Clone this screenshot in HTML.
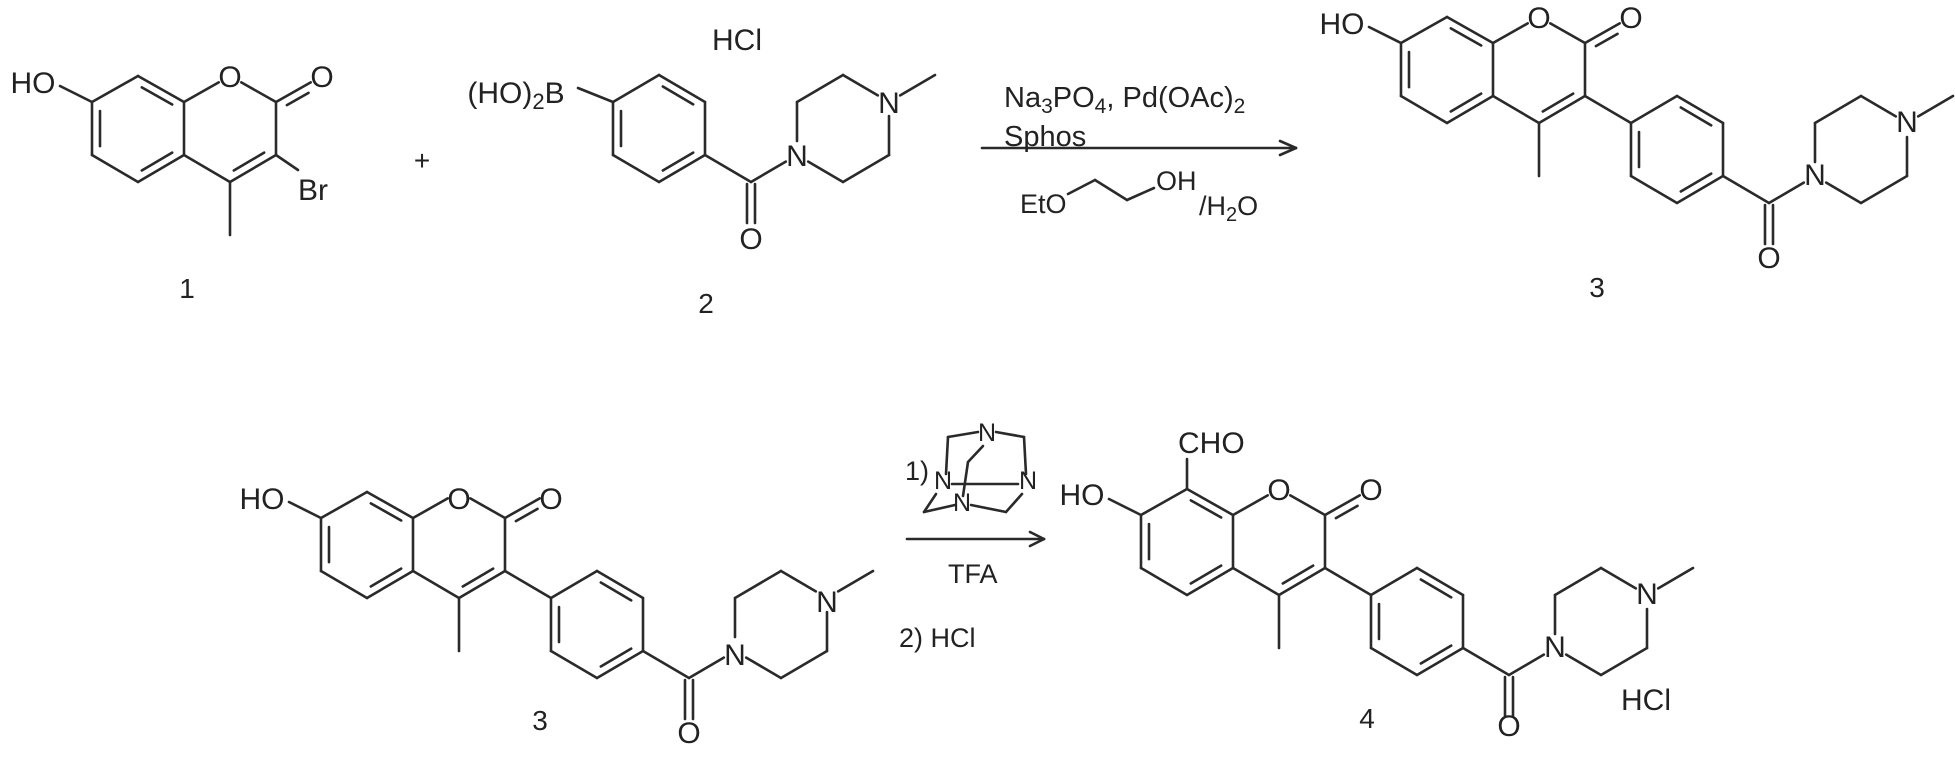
<!DOCTYPE html>
<html><head><meta charset="utf-8"><style>
html,body{margin:0;padding:0;background:#fff;}
svg{display:block;}
text{font-family:"Liberation Sans",sans-serif;fill:#222;}
</style></head><body>
<svg id="s" width="1955" height="758" viewBox="0 0 1955 758" xmlns="http://www.w3.org/2000/svg">
<g id="lines" stroke="#2a2a2a" stroke-width="2.6" fill="none" stroke-linecap="round"></g>
<g font-size="30" text-anchor="middle">
<!-- compound 1 -->
<text x="33" y="93">HO</text>
<text x="230" y="87">O</text>
<text x="322" y="87">O</text>
<text x="298" y="200" text-anchor="start">Br</text>
<text x="187" y="298" font-size="28">1</text>
<text x="422" y="170" font-size="28">+</text>
<!-- compound 2 -->
<text x="737" y="50">HCl</text>
<text x="516" y="103"><tspan>(HO)</tspan><tspan font-size="22" dy="6">2</tspan><tspan dy="-6">B</tspan></text>
<text x="751" y="249">O</text>
<text x="797" y="166">N</text>
<text x="889" y="113">N</text>
<text x="706" y="313" font-size="28">2</text>
<!-- reagents top -->
<text x="1004" y="107" text-anchor="start" font-size="29">Na<tspan font-size="21" dy="6">3</tspan><tspan dy="-6">PO</tspan><tspan font-size="21" dy="6">4</tspan><tspan dy="-6">, Pd(OAc)</tspan><tspan font-size="21" dy="6">2</tspan></text>
<text x="1004" y="146" text-anchor="start" font-size="29">Sphos</text>
<text x="1020" y="213" text-anchor="start" font-size="27">EtO</text>
<text x="1156" y="190" text-anchor="start" font-size="27">OH</text>
<text x="1199" y="215" text-anchor="start" font-size="27">/H<tspan font-size="20" dy="6">2</tspan><tspan dy="-6">O</tspan></text>
<!-- compound 3 top -->
<text x="1342" y="34">HO</text>
<text x="1539" y="28">O</text>
<text x="1631" y="28">O</text>
<text x="1769" y="268">O</text>
<text x="1815" y="185">N</text>
<text x="1907" y="132">N</text>
<text x="1597" y="297" font-size="28">3</text>
<!-- compound 3 bottom -->
<text x="262" y="509">HO</text>
<text x="459" y="509">O</text>
<text x="551" y="509">O</text>
<text x="689" y="743">O</text>
<text x="735" y="665">N</text>
<text x="827" y="612">N</text>
<text x="540" y="730" font-size="28">3</text>
<!-- reagents bottom -->
<text x="905" y="480" text-anchor="start" font-size="27">1)</text>
<g font-size="25">
<text x="987" y="441">N</text>
<text x="943" y="489">N</text>
<text x="1028" y="489">N</text>
<text x="962" y="511">N</text>
</g>
<text x="948" y="583" text-anchor="start" font-size="27">TFA</text>
<text x="899" y="647" text-anchor="start" font-size="27">2) HCl</text>
<!-- compound 4 -->
<text x="1082" y="505">HO</text>
<text x="1178" y="453" text-anchor="start">CHO</text>
<text x="1279" y="500">O</text>
<text x="1371" y="500">O</text>
<text x="1509" y="736">O</text>
<text x="1555" y="657">N</text>
<text x="1647" y="604">N</text>
<text x="1646" y="710">HCl</text>
<text x="1367" y="728" font-size="28">4</text>
</g>
</svg>
<script>
(function(){
var g=document.getElementById('lines'),NS='http://www.w3.org/2000/svg';
function ln(x1,y1,x2,y2){var l=document.createElementNS(NS,'line');l.setAttribute('x1',x1);l.setAttribute('y1',y1);l.setAttribute('x2',x2);l.setAttribute('y2',y2);g.appendChild(l);}
function seg(a,b,ta,tb){ta=ta||0;tb=tb||0;var dx=b[0]-a[0],dy=b[1]-a[1],d=Math.hypot(dx,dy),ux=dx/d,uy=dy/d;ln(a[0]+ux*ta,a[1]+uy*ta,b[0]-ux*tb,b[1]-uy*tb);}
function inner(a,b,c){var mx=(a[0]+b[0])/2,my=(a[1]+b[1])/2,vx=c[0]-mx,vy=c[1]-my,d=Math.hypot(vx,vy),o=8;vx=vx/d*o;vy=vy/d*o;var dx=b[0]-a[0],dy=b[1]-a[1];ln(a[0]+dx*0.17+vx,a[1]+dy*0.17+vy,b[0]-dx*0.17+vx,b[1]-dy*0.17+vy);}
function par(a,b,px,py,s0,s1){var dx=b[0]-a[0],dy=b[1]-a[1];ln(a[0]+dx*s0+px,a[1]+dy*s0+py,a[0]+dx*s1+px,a[1]+dy*s1+py);}
function coumarin(ox,oy,o){
 function P(x,y){return [x+ox,y+oy];}
 var C7=P(92,102),C8=P(138,76),C8a=P(184,102),C4a=P(184,155),C5=P(138,182),C6=P(92,155),
 O1=P(230,76),C2=P(276,102),C3=P(276,155),C4=P(230,182),Oc=P(322,76),c1=P(138,129),c2=P(230,129);
 seg(C7,C8);seg(C8,C8a);seg(C8a,C4a);seg(C4a,C5);seg(C5,C6);seg(C6,C7);
 inner(C8,C8a,c1);inner(C4a,C5,c1);inner(C6,C7,c1);
 seg(C8a,O1,0,13);seg(O1,C2,13,0);seg(C2,C3);seg(C3,C4);seg(C4,C4a);inner(C3,C4,c2);
 seg(C2,Oc,0,13);par(C2,Oc,4,7,0.15,0.62);
 seg(C4,P(230,235));
 seg(P(60,86),C7);
 if(o.br) seg(C3,P(298,170));
 if(o.cho) seg(C8,P(138,46));
 if(o.ph){ seg(C3,P(322,182)); amide(ox+322,oy+182);}
}
function amide(ox,oy){
 function P(x,y){return [x+ox,y+oy];}
 var a=P(0,0),b=P(46,-27),c=P(92,0),d=P(92,53),e=P(46,80),f=P(0,53),cc=P(46,26.5);
 seg(a,b);seg(b,c);seg(c,d);seg(d,e);seg(e,f);seg(f,a);
 inner(b,c,cc);inner(d,e,cc);inner(f,a,cc);
 var C=P(138,80),O=P(138,136),N=P(184,53),ul=P(184,0),t=P(230,-27),N4=P(276,0),lr=P(276,53),bt=P(230,80);
 seg(d,C);seg(C,N,0,13);
 ln(C[0]-4,C[1]+2,O[0]-4,O[1]-15);ln(C[0]+4,C[1]+2,O[0]+4,O[1]-15);
 seg(N,ul,14,0);seg(ul,t);seg(t,N4,0,13);seg(N4,lr,14,0);seg(lr,bt);seg(bt,N,0,13);
 seg(N4,P(322,-27),13,0);
}
coumarin(0,0,{br:1});
amide(613,102);
seg([578,88],[613,102]);
coumarin(1309,-59,{ph:1});
coumarin(229,416,{ph:1});
coumarin(1049,413,{ph:1,cho:1});
ln(982,148,1296,148);ln(1296,148,1280,141);ln(1296,148,1280,155);
ln(1068,194,1095,180);ln(1095,180,1127,200);ln(1127,200,1154,188);
ln(907,539,1044,539);ln(1044,539,1030,532);ln(1044,539,1030,546);
ln(978,432,948,437);ln(948,437,946,474);
ln(996,432,1024,437);ln(1024,437,1026,474);
ln(983,446,968,462);ln(968,462,963,496);
ln(952,484,1018,484);
ln(955,505,924,512);ln(924,512,936,494);
ln(971,505,1006,512);ln(1006,512,1022,494);
})();
</script>
</body></html>
